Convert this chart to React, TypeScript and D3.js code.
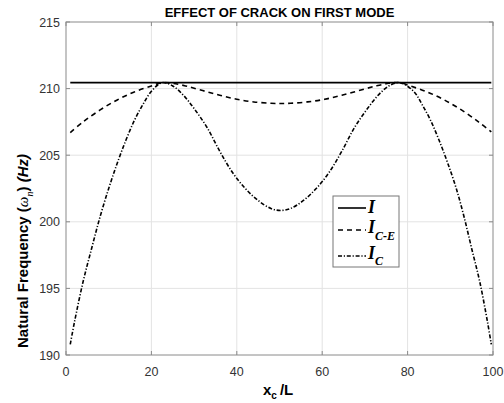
import * as d3 from "d3";
import React from "react";

// x positions (crack location x_c/L, %) and natural frequencies (Hz)
const xIntact = [1, 99.6];
const fIntact = [210.45, 210.45];

const xCE = [1, 4, 8, 12, 16, 20, 22.5, 25, 28, 32, 36, 40, 44, 48, 50.3, 52.6, 56.6, 60.6, 64.6, 68.6, 72.6, 75.6, 78.1, 80.6, 84.6, 88.6, 92.6, 96.6, 99.6];
const fCE = [206.7, 207.5, 208.4, 209.15, 209.75, 210.2, 210.45, 210.4, 210.2, 209.85, 209.5, 209.2, 209.0, 208.9, 208.88, 208.9, 209.0, 209.2, 209.5, 209.85, 210.2, 210.4, 210.45, 210.2, 209.75, 209.15, 208.4, 207.5, 206.75];

const xC = [1, 2, 4, 6, 8, 10, 12, 14, 16, 18, 20, 22.5, 25, 27.5, 30, 33, 36, 39, 42, 45, 48, 50.3, 52.6, 55.6, 58.6, 61.6, 64.6, 67.6, 70.6, 73.1, 75.6, 78.1, 81.4, 83.4, 85.4, 87.4, 89.4, 91.4, 93.2, 95, 96.9, 98.7, 99.6];
const fC = [190.8, 192.5, 195.5, 198.0, 200.4, 202.5, 204.4, 206.1, 207.6, 208.8, 209.8, 210.45, 210.2, 209.5, 208.5, 207.1, 205.3, 203.7, 202.5, 201.6, 201.0, 200.85, 201.0, 201.6, 202.5, 203.7, 205.3, 207.1, 208.5, 209.5, 210.2, 210.45, 209.8, 208.8, 207.6, 206.1, 204.4, 202.5, 200.4, 198.0, 195.5, 192.5, 190.8];

const xTicks = [0, 20, 40, 60, 80, 100];
const yTicks = [190, 195, 200, 205, 210, 215];

const W = 504, H = 403;
const left = 66, right = 493, top = 22, bottom = 355;

export default function App() {
  const x = d3.scaleLinear().domain([0, 100]).range([left, right]);
  const y = d3.scaleLinear().domain([190, 215]).range([bottom, top]);

  const line = (xs: number[], ys: number[]) =>
    d3.line<number>()
      .x((_, i) => x(xs[i]))
      .y((d) => y(d))
      .curve(d3.curveCatmullRom.alpha(0.5))(ys) || "";

  const axisColor = "#8a8a8a";
  const tickColor = "#333";
  const sans = "'Liberation Sans', Arial, sans-serif";
  const serif = "'Liberation Serif', 'Times New Roman', serif";

  return (
    <svg width={W} height={H} style={{ position: "absolute", left: 0, top: 0, background: "#fff" }}>
      <rect x={0} y={0} width={W} height={H} fill="#fff" />
      {/* grid */}
      {xTicks.slice(1, -1).map((t) => (
        <line key={"gx" + t} x1={x(t)} x2={x(t)} y1={top} y2={bottom} stroke="#e3e3e3" strokeWidth={1} />
      ))}
      {yTicks.slice(1, -1).map((t) => (
        <line key={"gy" + t} x1={left} x2={right} y1={y(t)} y2={y(t)} stroke="#e3e3e3" strokeWidth={1} />
      ))}

      {/* curves */}
      <path d={line(xIntact, fIntact)} fill="none" stroke="#000" strokeWidth={1.6} />
      <path d={line(xCE, fCE)} fill="none" stroke="#000" strokeWidth={1.6} strokeDasharray="5,4" />
      <path d={line(xC, fC)} fill="none" stroke="#000" strokeWidth={1.6} strokeDasharray="4,1.8,1.2,1.8" />

      {/* box */}
      <rect x={left} y={top} width={right - left} height={bottom - top} fill="none" stroke={axisColor} strokeWidth={1} />
      {xTicks.map((t) => (
        <g key={"tx" + t}>
          <line x1={x(t)} x2={x(t)} y1={bottom} y2={bottom - 4} stroke={axisColor} />
          <line x1={x(t)} x2={x(t)} y1={top} y2={top + 4} stroke={axisColor} />
          <text x={x(t)} y={376} textAnchor="middle" fontFamily={sans} fontSize={12.5} fill={tickColor}>{t}</text>
        </g>
      ))}
      {yTicks.map((t) => (
        <g key={"ty" + t}>
          <line x1={left} x2={left + 4} y1={y(t)} y2={y(t)} stroke={axisColor} />
          <line x1={right} x2={right - 4} y1={y(t)} y2={y(t)} stroke={axisColor} />
          <text x={60} y={y(t) + 4.5} textAnchor="end" fontFamily={sans} fontSize={12.5} fill={tickColor}>{t}</text>
        </g>
      ))}

      {/* title */}
      <text x={(left + right) / 2} y={17} textAnchor="middle" fontFamily={sans} fontWeight="bold" fontSize={13} fill="#000">
        EFFECT OF CRACK ON FIRST MODE
      </text>

      {/* x label */}
      <text x={263} y={395} fontFamily={sans} fontWeight="bold" fontSize={15} fill="#000">
        x
        <tspan fontSize={10} dy={4}>c</tspan>
        <tspan dy={-4} dx={3}>/L</tspan>
      </text>

      {/* y label */}
      <text transform="translate(28,348) rotate(-90)" fontFamily={sans} fontWeight="bold" fontSize={15} fill="#000">
        Natural Frequency (
        <tspan fontFamily={serif} fontStyle="italic" fontWeight="normal">ω</tspan>
        <tspan fontFamily={serif} fontStyle="italic" fontWeight="normal" fontSize={10} dy={5}>n</tspan>
        <tspan dy={-5}>) </tspan>
        <tspan fontStyle="italic">(Hz)</tspan>
      </text>

      {/* legend */}
      <rect x={333} y={196} width={66} height={71} fill="#fff" stroke="#777" strokeWidth={1} />
      <line x1={338} x2={366} y1={208} y2={208} stroke="#000" strokeWidth={1.6} />
      <line x1={338} x2={366} y1={230} y2={230} stroke="#000" strokeWidth={1.6} strokeDasharray="5,4" />
      <line x1={338} x2={366} y1={256} y2={256} stroke="#000" strokeWidth={1.6} strokeDasharray="4,1.8,1.2,1.8" />
      <text x={368} y={213} fontFamily={serif} fontStyle="italic" fontWeight="bold" fontSize={18}>I</text>
      <text x={368} y={233} fontFamily={serif} fontStyle="italic" fontWeight="bold" fontSize={18}>
        I<tspan fontSize={12} dy={7}>C-E</tspan>
      </text>
      <text x={368} y={259} fontFamily={serif} fontStyle="italic" fontWeight="bold" fontSize={18}>
        I<tspan fontSize={12} dy={6}>C</tspan>
      </text>
    </svg>
  );
}
